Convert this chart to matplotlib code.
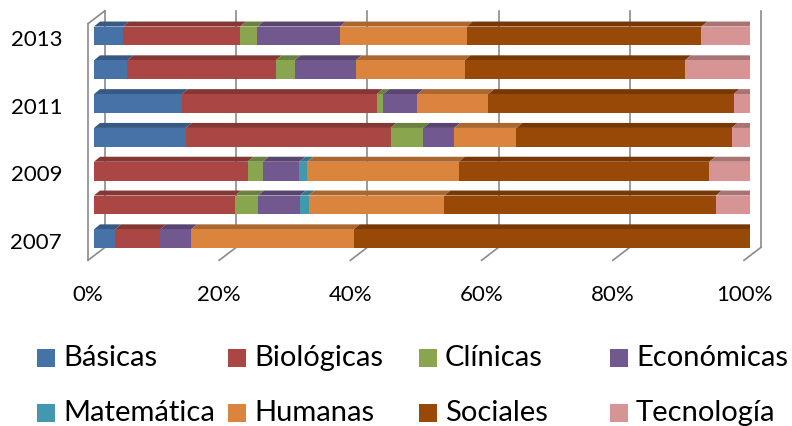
import matplotlib
matplotlib.use("Agg")
import matplotlib.pyplot as plt
from matplotlib.patches import Polygon, Rectangle
from matplotlib.transforms import offset_copy
import numpy as np

plt.rcParams['font.family'] = ['Lato', 'DejaVu Sans']

years = ['2007', '2008', '2009', '2010', '2011', '2012', '2013']
year_ticks = ['2007', '2009', '2011', '2013']
series_names = ['Básicas', 'Biológicas', 'Clínicas', 'Económicas',
                'Matemática', 'Humanas', 'Sociales', 'Tecnología']
basicas = [3.2, 0, 0, 14.0, 13.4, 5.1, 4.4]
biologicas = [6.9, 21.5, 23.4, 31.2, 29.7, 22.6, 17.9]
clinicas = [0, 3.5, 2.3, 5.0, 1.0, 2.9, 2.6]
economicas = [4.7, 6.4, 5.6, 4.7, 5.2, 9.3, 12.6]
matematica = [0, 1.3, 1.2, 0, 0, 0, 0]
humanas = [24.8, 20.7, 23.1, 9.5, 10.8, 16.6, 19.3]
sociales = [60.4, 41.4, 38.2, 32.8, 37.4, 33.6, 35.8]
tecnologia = [0, 5.2, 6.2, 2.8, 2.5, 9.9, 7.4]
x_ticks = [0, 20, 40, 60, 80, 100]
x_tick_labels = ['0%', '20%', '40%', '60%', '80%', '100%']

colors = ['#4672A7', '#AA4643', '#89A54E', '#71588F',
          '#4198AF', '#DB843D', '#984807', '#D69594']
all_series = [basicas, biologicas, clinicas, economicas,
              matematica, humanas, sociales, tecnologia]


def shade(c, f):
    r, g, b = matplotlib.colors.to_rgb(c)
    return (r * f, g * f, b * f)


W, H = 792, 426
fig = plt.figure(figsize=(W / 100, H / 100), dpi=100)
ax = fig.add_axes([94 / W, (H - 262) / H, 656 / W, 252 / H])
ax.set_xlim(0, 100)
ax.set_ylim(-0.686, 6.769)
ax.axis('off')

inv = ax.transData.inverted()


def pxd(px, py):
    x0, y0 = inv.transform((0, 0))
    x1, y1 = inv.transform((px, py))
    return x1 - x0, y1 - y0


# depth vectors (pixels): bar depth, front plane, back plane
bdx, bdy = pxd(6, 5)
fdx, fdy = pxd(-6, -4.6)
kdx, kdy = pxd(11, 8.4)
ybot, ytop = -0.5, 6.5
gc = '#8a8a8a'
glw = 1.2

# back wall gridlines
for xt in x_ticks:
    ax.plot([xt + kdx, xt + kdx], [ybot + kdy, ytop + kdy], color=gc, lw=glw,
            clip_on=False, zorder=1)
    # floor diagonals
    ax.plot([xt + fdx, xt + kdx], [ybot + fdy, ybot + kdy], color=gc, lw=glw,
            clip_on=False, zorder=1)
# left wall
ax.plot([0 + fdx, 0 + fdx], [ybot + fdy, ytop + fdy], color=gc, lw=glw,
        clip_on=False, zorder=1)
ax.plot([0 + fdx, 0 + kdx], [ytop + fdy, ytop + kdy], color=gc, lw=glw,
        clip_on=False, zorder=1)

# bars
h = 0.56
for i in range(len(years)):
    left = 0.0
    last = None
    for j, s in enumerate(all_series):
        v = s[i]
        if v <= 0:
            continue
        ax.barh(i, v, left=left, height=h, color=colors[j], lw=0, zorder=3)
        yt = i + h / 2
        ax.add_patch(Polygon([(left, yt), (left + v, yt),
                              (left + v + bdx, yt + bdy), (left + bdx, yt + bdy)],
                             closed=True, facecolor=shade(colors[j], 0.78),
                             lw=0, zorder=2))
        left += v
        last = j
    yb = i - h / 2
    yt = i + h / 2
    ax.add_patch(Polygon([(left, yb), (left, yt), (left + bdx, yt + bdy),
                          (left + bdx, yb + bdy)], closed=True,
                         facecolor=shade(colors[last], 0.62), lw=0, zorder=2))

# y tick labels
ytr = offset_copy(ax.transData, fig=fig, x=-32, y=-4.0, units='dots')
for lab in year_ticks:
    i = years.index(lab)
    ax.text(0, i, lab, transform=ytr, ha='right', va='center', fontsize=16,
            color='#000000')

# x tick labels
xtr = offset_copy(ax.transData, fig=fig, x=-6, y=-4.6 - 35, units='dots')
for xt, lab in zip(x_ticks, x_tick_labels):
    ax.text(xt, ybot, lab, transform=xtr, ha='center', va='center',
            fontsize=16, color='#000000')

# legend (manual, Excel style grid)
col_x = [37, 228, 419, 610]
row_y = [358, 413]
order = [[0, 1, 2, 3], [4, 5, 6, 7]]
for r, row in enumerate(order):
    for c, j in enumerate(row):
        x0 = col_x[c]
        yc = row_y[r]
        fig.add_artist(Rectangle((x0 / W, (H - yc - 9) / H), 18 / W, 18 / H,
                                 transform=fig.transFigure,
                                 facecolor=colors[j], lw=0))
        fig.text((x0 + 26) / W, (H - yc) / H, series_names[j],
                 ha='left', va='center', fontsize=21, color='#000000')

fig.savefig('out.png', dpi=100)
